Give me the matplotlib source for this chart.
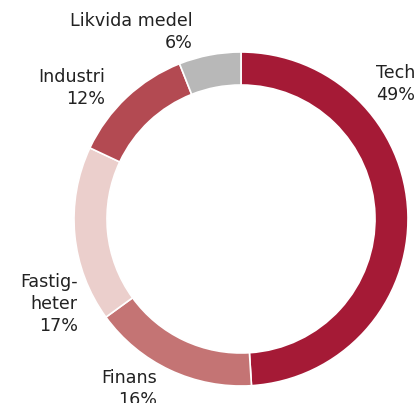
import matplotlib.pyplot as plt

# === Data ===
sectors = ["Tech", "Finans", "Fastig-\nheter", "Industri", "Likvida medel"]
shares = [49, 16, 17, 12, 6]
colors = ["#A51A36", "#C47474", "#EBCFCC", "#B34A52", "#B8B8B8"]

# label anchor positions in pixels (x, top y) and alignment
label_pos = [(376, 64, "left"), (157, 369, "right"), (78, 273, "right"),
             (105, 68, "right"), (193, 12, "right")]

W, H = 420, 403
fig = plt.figure(figsize=(W / 100, H / 100), dpi=100)
ax = fig.add_axes([0, 0, 1, 1])

ax.pie(shares, colors=colors, startangle=90, counterclock=False,
       center=(241, H - 219), radius=167,
       wedgeprops=dict(width=33, edgecolor="white", linewidth=1.2))

for name, val, (x, y, ha) in zip(sectors, shares, label_pos):
    ax.text(x, H - y, f"{name}\n{val}%", ha=ha, va="top", fontsize=12.6,
            color="#222222", linespacing=1.3, family="DejaVu Sans")

ax.set_xlim(0, W)
ax.set_ylim(0, H)
ax.set_aspect("equal")
ax.axis("off")

fig.savefig("out.png", dpi=100)
